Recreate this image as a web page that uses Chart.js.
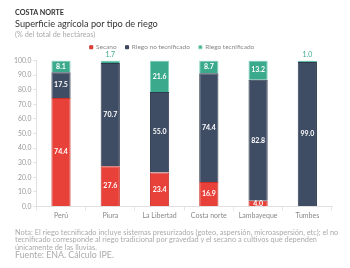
<!DOCTYPE html>
<html>
<head>
<meta charset="utf-8">
<script src="https://cdn.jsdelivr.net/npm/chart.js@4.4.1/dist/chart.umd.min.js"></script>
<style>
  html, body { margin: 0; padding: 0; background: #fff; }
  body { width: 350px; height: 268px; position: relative; overflow: hidden; font-family: Lato, "Open Sans", sans-serif; }
  #wrap { position: absolute; left: 0; top: 0; width: 350px; height: 268px; }
  .txt { position: absolute; left: 15px; white-space: nowrap; }
  #t1 { top: 8px; line-height: 10px; font-size: 7.2px; font-weight: bold; color: #333; }
  #t2 { top: 18px; line-height: 12px; font-size: 9.2px; color: #333; }
  #t3 { top: 30px; line-height: 10px; font-size: 7.3px; color: #aaa; }
  #note { top: 228.5px; font-size: 7.4px; color: #aaa; line-height: 7.9px; white-space: normal; width: 334px; }
  #src { top: 250px; line-height: 10px; font-size: 8.8px; color: #aaa; }
</style>
</head>
<body>
<div id="wrap"><canvas id="chart"></canvas></div>
<div class="txt" id="t1">COSTA NORTE</div>
<div class="txt" id="t2">Superficie agrícola por tipo de riego</div>
<div class="txt" id="t3">(% del total de hectáreas)</div>
<div class="txt" id="note">Nota: El riego tecnificado incluye sistemas presurizados (goteo, aspersión, microaspersión, etc); el no tecnificado corresponde al riego tradicional por gravedad y el secano a cultivos que dependen únicamente de las lluvias.</div>
<div class="txt" id="src">Fuente: ENA. Cálculo IPE.</div>
<script>
// Data
const categories = ['Perú', 'Piura', 'La Libertad', 'Costa norte', 'Lambayeque', 'Tumbes'];
const secano = [74.4, 27.6, 23.4, 16.9, 4.0, 0];
const noTecnificado = [17.5, 70.7, 55.0, 74.4, 82.8, 99.0];
const tecnificado = [8.1, 1.7, 21.6, 8.7, 13.2, 1.0];
const yTicks = [0, 10, 20, 30, 40, 50, 60, 70, 80, 90, 100];

const RED = '#e8413a';
const NAVY = '#3f4d64';
const GREEN = '#3aa98c';
const FONT = 'Lato, "Open Sans", sans-serif';

// Value labels on each segment
const segmentLabels = {
    id: 'segmentLabels',
    afterDatasetsDraw(chart) {
        const ctx = chart.ctx;
        ctx.save();
        ctx.textAlign = 'center';
        chart.data.datasets.forEach((ds, di) => {
            const meta = chart.getDatasetMeta(di);
            meta.data.forEach((bar, i) => {
                const v = ds.data[i];
                if (!v) return;
                const txt = v.toFixed(1);
                if (v < 3) {
                    ctx.font = '7px ' + FONT;
                    ctx.fillStyle = GREEN;
                    ctx.textBaseline = 'bottom';
                    ctx.fillText(txt, bar.x, bar.y - 2);
                } else {
                    ctx.font = 'bold 7px ' + FONT;
                    ctx.fillStyle = '#fff';
                    ctx.textBaseline = 'middle';
                    ctx.fillText(txt, bar.x, (bar.y + bar.base) / 2);
                }
            });
        });
        ctx.restore();
    }
};

const ctx = document.getElementById('chart').getContext('2d');
new Chart(ctx, {
    type: 'bar',
    data: {
        labels: categories,
        datasets: [
            { label: 'Secano', data: secano, backgroundColor: RED, borderColor: '#c9302a', borderWidth: 1 },
            { label: 'Riego no tecnificado', data: noTecnificado, backgroundColor: NAVY, borderColor: '#2f3a4d', borderWidth: 1 },
            { label: 'Riego tecnificado', data: tecnificado, backgroundColor: GREEN, borderColor: '#7fd0bb', borderWidth: 1 }
        ]
    },
    options: {
        responsive: true,
        maintainAspectRatio: false,
        animation: false,
        devicePixelRatio: 1,
        layout: { padding: { top: 35, bottom: 47, left: 12, right: 18 } },
        datasets: { bar: { categoryPercentage: 1, barPercentage: 0.39 } },
        plugins: {
            legend: {
                display: true,
                position: 'top',
                labels: {
                    usePointStyle: true,
                    pointStyle: 'rect',
                    boxWidth: 3,
                    boxHeight: 3,
                    padding: 9,
                    color: '#888',
                    font: { size: 6.5, family: FONT }
                }
            },
            tooltip: { enabled: false }
        },
        scales: {
            x: {
                stacked: true,
                grid: { display: true, drawOnChartArea: false, offset: true, color: '#e6e6e6', tickLength: 4 },
                border: { color: '#e0e0e0' },
                ticks: { color: '#888', font: { size: 7, family: FONT }, padding: 1 }
            },
            y: {
                stacked: true,
                min: 0,
                max: 100,
                afterBuildTicks: (axis) => { axis.ticks = yTicks.map(v => ({ value: v })); },
                grid: { display: true, drawOnChartArea: false, color: '#e0e0e0', tickLength: 3 },
                border: { color: '#e0e0e0' },
                ticks: {
                    color: '#999',
                    font: { size: 6.8, family: FONT },
                    padding: 2,
                    callback: (v) => Number(v).toFixed(1)
                }
            }
        }
    },
    plugins: [segmentLabels]
});
</script>
</body>
</html>
